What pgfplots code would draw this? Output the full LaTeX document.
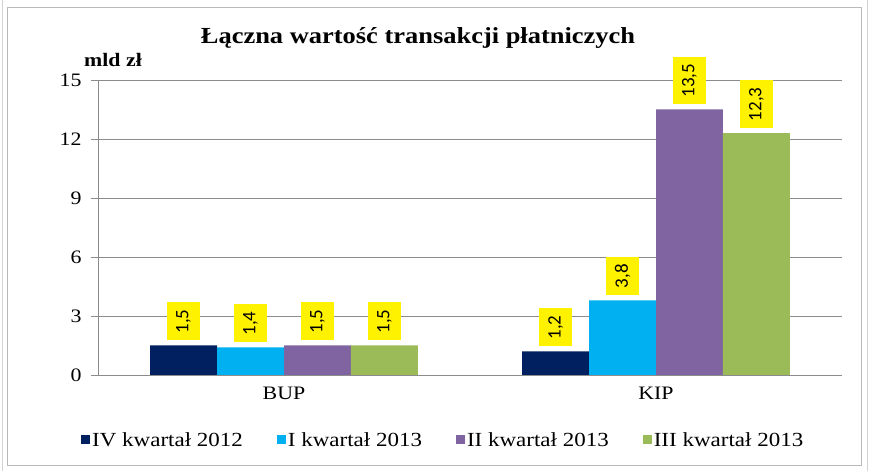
\documentclass[border=0pt]{standalone}
\usepackage{pgfplots}
\pgfplotsset{compat=1.18}
\usepackage{fontspec}
\setmainfont{Liberation Serif}[FakeStretch=1.15]
\newfontfamily\carlito{Carlito}
\definecolor{c1}{HTML}{002060}
\definecolor{c2}{HTML}{00B0F0}
\definecolor{c3}{HTML}{8064A2}
\definecolor{c4}{HTML}{9BBB59}
\definecolor{gridgray}{HTML}{8C8C8C}
\begin{document}
\begin{tikzpicture}[x=1pt,y=1pt]
\useasboundingbox (0,0) rectangle (870,471);
\draw[gray!55, line width=1pt] (7,5) rectangle (861,463);
\draw[gray!35, line width=0.8pt] (2.5,0) -- (2.5,471);
\draw[gray!35, line width=0.8pt] (867.5,0) -- (867.5,471);
\node[font=\bfseries\fontsize{23}{23}\selectfont] at (418,433) {Łączna wartość transakcji płatniczych};
\node[font=\bfseries\fontsize{19}{19}\selectfont, anchor=west, inner sep=0pt] at (84,411) {mld zł};
\begin{axis}[
  at={(98pt,96pt)}, anchor=south west,
  scale only axis, width=744pt, height=295pt,
  /pgf/number format/assume math mode=true,
  ymin=0, ymax=15, ytick={0,3,...,15},
  xmin=-0.5, xmax=1.5, xtick={0,1}, xticklabels={BUP,KIP},
  major x tick style={draw=none},
  extra x ticks={-0.5,0.5,1.5}, extra x tick labels={},
  extra x tick style={major tick length=7pt, tick style={draw=gridgray}},
  axis x line*=bottom, axis y line*=left,
  axis line style={draw=gridgray, line width=0.8pt, -},
  tick align=outside, major tick length=7pt,
  ytick style={draw=gridgray},
  ymajorgrids, grid style={draw=gridgray, line width=0.8pt},
  ticklabel style={font=\fontsize{19}{19}\selectfont},
  xticklabel style={yshift=-2pt},
  yticklabel style={xshift=-6pt},
  ybar=0pt, bar width=0.18,
  every axis plot/.append style={draw=none},
  nodes near coords={\pgfmathprintnumber[fixed,fixed zerofill,precision=1,use comma,assume math mode=true]{\pgfplotspointmeta}},
  nodes near coords style={rotate=90, anchor=west, fill=yellow, text=black,
    font=\carlito\fontsize{19}{19}\selectfont, inner xsep=7pt, inner ysep=9pt, outer sep=5pt},
  legend columns=4,
  legend style={draw=none, at={(0.464,-0.22)}, anchor=center,
    font=\fontsize{20}{20}\selectfont,
    /tikz/every even column/.append style={column sep=32pt},
    /tikz/every odd column/.append style={column sep=0pt}},
  legend image code/.code={\fill[#1] (0pt,-4.5pt) rectangle (9pt,4.5pt);},
]
\addplot[fill=c1] coordinates {(0,1.5) (1,1.2)};
\addplot[fill=c2] coordinates {(0,1.4) (1,3.8)};
\addplot[fill=c3] coordinates {(0,1.5) (1,13.5)};
\addplot[fill=c4] coordinates {(0,1.5) (1,12.3)};
\legend{IV kwartał 2012, I kwartał 2013, II kwartał 2013, III kwartał 2013}
\end{axis}
\end{tikzpicture}
\end{document}
